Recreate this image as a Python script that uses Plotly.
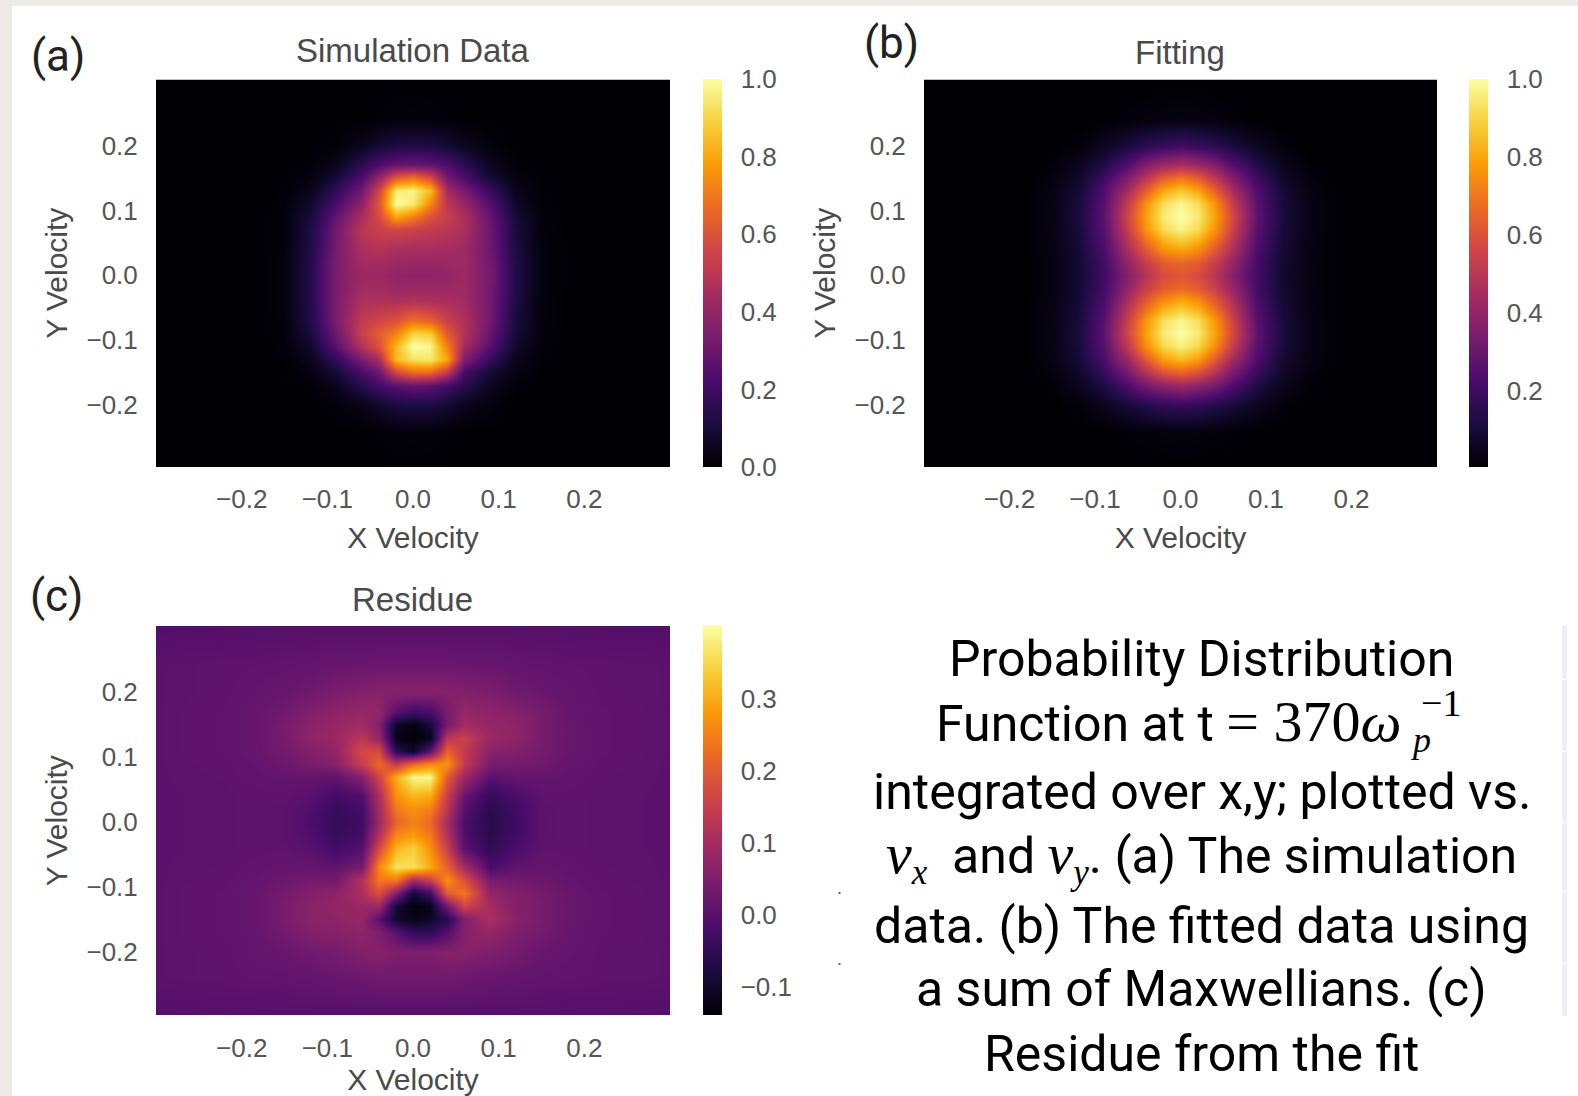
import plotly.graph_objects as go
from plotly.colors import sequential

W, H = 1578, 1096

x_vel = [-0.30, -0.22, -0.18, -0.15, -0.12, -0.09, -0.06, -0.04, -0.02, 0.0,
         0.02, 0.04, 0.06, 0.09, 0.12, 0.15, 0.18, 0.22, 0.30]
y_vel = [0.30, 0.24, 0.20, 0.17, 0.15, 0.13, 0.11, 0.09, 0.07, 0.04, 0.02, 0.0,
         -0.02, -0.04, -0.07, -0.09, -0.11, -0.13, -0.15, -0.17, -0.20, -0.24, -0.30]

simulation = [
 [0,0,0,0,0,0,0,0,0,0,0,0,0,0,0,0,0,0,0],
 [0,0,0,0,0,0,.002,.005,.01,.015,.01,.005,.002,0,0,0,0,0,0],
 [0,0,0,0,0,.01,.04,.09,.11,.12,.11,.09,.05,.015,0,0,0,0,0],
 [0,0,0,0,.008,.04,.15,.23,.28,.29,.28,.23,.15,.05,.008,0,0,0,0],
 [0,0,0,.003,.02,.09,.23,.40,.62,.68,.58,.32,.23,.09,.02,.003,0,0,0],
 [0,0,0,.006,.04,.16,.32,.56,.95,.97,.85,.44,.33,.18,.04,.006,0,0,0],
 [0,0,0,.01,.07,.22,.39,.62,1.0,.95,.74,.50,.41,.24,.06,.008,0,0,0],
 [0,0,0,.012,.10,.28,.46,.58,.80,.72,.60,.53,.46,.29,.09,.01,0,0,0],
 [0,0,0,.014,.11,.32,.50,.54,.56,.54,.52,.50,.46,.30,.10,.012,0,0,0],
 [0,0,0,.014,.12,.33,.46,.48,.46,.45,.45,.44,.43,.31,.11,.014,0,0,0],
 [0,0,0,.016,.13,.34,.44,.44,.42,.41,.41,.42,.43,.32,.12,.014,0,0,0],
 [0,0,0,.016,.13,.34,.42,.42,.40,.39,.39,.40,.42,.33,.12,.014,0,0,0],
 [0,0,0,.016,.13,.34,.44,.44,.42,.42,.42,.42,.43,.32,.12,.014,0,0,0],
 [0,0,0,.016,.13,.34,.47,.47,.47,.48,.47,.46,.44,.32,.11,.012,0,0,0],
 [0,0,0,.014,.12,.34,.52,.56,.60,.68,.64,.54,.47,.31,.10,.012,0,0,0],
 [0,0,0,.012,.10,.31,.54,.63,.72,.90,.88,.62,.48,.29,.09,.01,0,0,0],
 [0,0,0,.008,.07,.26,.48,.60,.84,1.0,.98,.72,.44,.25,.07,.008,0,0,0],
 [0,0,0,.005,.04,.16,.34,.46,.84,.93,.94,.80,.35,.17,.04,.005,0,0,0],
 [0,0,0,.003,.02,.09,.22,.30,.56,.66,.66,.50,.21,.09,.02,.003,0,0,0],
 [0,0,0,0,.008,.04,.14,.21,.26,.29,.27,.21,.14,.05,.008,0,0,0,0],
 [0,0,0,0,0,.01,.03,.07,.10,.11,.11,.08,.04,.015,0,0,0,0,0],
 [0,0,0,0,0,0,.002,.005,.01,.015,.01,.005,.002,0,0,0,0,0,0],
 [0,0,0,0,0,0,0,0,0,0,0,0,0,0,0,0,0,0,0],
]

fitting = [
 [0,0,0,0,0,0,0,0,0,0,0,0,0,0,0,0,0,0,0],
 [0,0,0,0,0,.005,.012,.02,.025,.03,.025,.02,.012,.005,0,0,0,0,0],
 [0,0,0,.002,.015,.055,.11,.15,.18,.20,.18,.15,.11,.055,.015,.002,0,0,0],
 [0,0,.002,.01,.045,.13,.25,.35,.42,.45,.42,.35,.25,.13,.045,.01,.002,0,0],
 [0,0,.003,.02,.07,.19,.36,.50,.63,.69,.63,.50,.36,.19,.07,.02,.003,0,0],
 [0,0,.005,.03,.09,.24,.46,.64,.80,.87,.80,.64,.46,.24,.09,.03,.005,0,0],
 [0,0,.006,.035,.10,.26,.54,.76,.92,.98,.92,.76,.54,.26,.10,.035,.006,0,0],
 [0,0,.006,.035,.105,.27,.58,.79,.95,1.0,.95,.79,.58,.27,.105,.035,.006,0,0],
 [0,0,.006,.035,.10,.26,.55,.76,.91,.97,.91,.76,.55,.26,.10,.035,.006,0,0],
 [0,0,.005,.03,.09,.23,.47,.62,.75,.80,.75,.62,.47,.23,.09,.03,.005,0,0],
 [0,0,.005,.025,.085,.21,.41,.53,.63,.66,.63,.53,.41,.21,.085,.025,.005,0,0],
 [0,0,.004,.025,.08,.20,.38,.49,.58,.61,.58,.49,.38,.20,.08,.025,.004,0,0],
 [0,0,.005,.025,.085,.21,.41,.54,.63,.67,.63,.54,.41,.21,.085,.025,.005,0,0],
 [0,0,.005,.03,.09,.23,.48,.63,.76,.81,.76,.63,.48,.23,.09,.03,.005,0,0],
 [0,0,.006,.035,.10,.26,.56,.77,.92,.98,.92,.77,.56,.26,.10,.035,.006,0,0],
 [0,0,.006,.035,.105,.27,.58,.79,.95,1.0,.95,.79,.58,.27,.105,.035,.006,0,0],
 [0,0,.006,.035,.10,.26,.53,.75,.90,.96,.90,.75,.53,.26,.10,.035,.006,0,0],
 [0,0,.005,.03,.09,.23,.44,.62,.78,.84,.78,.62,.44,.23,.09,.03,.005,0,0],
 [0,0,.003,.02,.07,.18,.34,.48,.60,.65,.60,.48,.34,.18,.07,.02,.003,0,0],
 [0,0,.002,.01,.045,.12,.24,.33,.39,.42,.39,.33,.24,.12,.045,.01,.002,0,0],
 [0,0,0,.002,.015,.05,.10,.13,.16,.17,.16,.13,.10,.05,.015,.002,0,0,0],
 [0,0,0,0,0,.005,.01,.015,.02,.025,.02,.015,.01,.005,0,0,0,0,0],
 [0,0,0,0,0,0,0,0,0,0,0,0,0,0,0,0,0,0,0],
]

residue = [
 [-.008,-.006,-.005,-.005,-.004,-.004,-.004,-.004,-.004,-.004,-.004,-.004,-.004,-.004,-.004,-.005,-.005,-.006,-.008],
 [.005,.008,.01,.012,.015,.02,.022,.025,.025,.025,.025,.025,.022,.02,.015,.012,.01,.008,.005],
 [.005,.008,.015,.02,.03,.045,.055,.06,.06,.06,.06,.06,.055,.045,.03,.02,.015,.008,.005],
 [.005,.01,.02,.03,.055,.07,.08,.075,.0,-.03,-.02,.04,.08,.07,.06,.04,.018,.01,.005],
 [.005,.01,.02,.04,.065,.08,.095,.06,-.11,-.13,-.09,.04,.10,.08,.07,.04,.02,.01,.005],
 [.005,.01,.02,.04,.07,.085,.13,.08,-.12,-.135,-.12,.13,.15,.085,.07,.04,.02,.01,.005],
 [.005,.01,.02,.035,.055,.075,.17,.17,-.06,-.11,.0,.21,.14,.065,.055,.035,.02,.01,.005],
 [.005,.008,.015,.025,.04,.06,.15,.22,.14,.22,.26,.27,.14,.04,.035,.03,.015,.008,.005],
 [.005,.007,.012,.015,.015,.01,.06,.16,.30,.39,.39,.20,.09,.0,.015,.015,.012,.007,.005],
 [.005,.006,.008,.008,.0,-.03,-.01,.11,.27,.31,.30,.15,.02,-.05,-.02,.008,.008,.006,.005],
 [.005,.006,.008,.005,-.01,-.04,-.025,.10,.24,.27,.25,.13,-.005,-.06,-.03,.005,.008,.006,.005],
 [.005,.006,.008,.005,-.015,-.045,-.03,.09,.21,.25,.22,.10,-.015,-.065,-.035,.005,.008,.006,.005],
 [.005,.006,.008,.005,-.01,-.04,-.025,.12,.26,.28,.24,.12,-.01,-.06,-.03,.005,.008,.006,.005],
 [.005,.006,.008,.008,0,-.03,-.005,.17,.31,.34,.27,.15,.0,-.055,-.02,.008,.008,.006,.005],
 [.005,.007,.012,.015,.015,.01,.04,.26,.36,.36,.30,.21,.10,-.02,.01,.015,.012,.007,.005],
 [.005,.008,.015,.025,.035,.03,.12,.24,.24,.10,.15,.27,.18,.04,.03,.025,.015,.008,.005],
 [.005,.01,.02,.035,.055,.07,.11,.18,.06,-.09,-.03,.20,.24,.075,.055,.035,.02,.01,.005],
 [.005,.01,.02,.04,.065,.075,.085,.09,-.09,-.135,-.12,.03,.16,.10,.055,.04,.02,.01,.005],
 [.005,.01,.02,.04,.065,.07,.08,.0,-.10,-.12,-.11,-.06,.05,.11,.06,.04,.02,.01,.005],
 [.005,.01,.018,.035,.055,.06,.07,.05,.0,-.05,-.05,-.01,.06,.08,.05,.035,.018,.01,.005],
 [.005,.008,.015,.02,.03,.04,.055,.06,.05,.05,.05,.06,.06,.05,.035,.02,.015,.008,.005],
 [.005,.008,.01,.012,.015,.02,.025,.03,.03,.03,.03,.03,.025,.02,.015,.012,.01,.008,.005],
 [-.008,-.006,-.006,-.005,-.005,-.005,-.005,-.005,-.005,-.005,-.005,-.005,-.005,-.005,-.005,-.005,-.006,-.006,-.008],
]

tick_vals = [-0.2, -0.1, 0.0, 0.1, 0.2]
tick_text = ["−0.2", "−0.1", "0.0", "0.1", "0.2"]
cbar_ticks_full = [0.0, 0.2, 0.4, 0.6, 0.8, 1.0]
cbar_ticks_fit = [0.2, 0.4, 0.6, 0.8, 1.0]
cbar_ticks_res = [-0.1, 0.0, 0.1, 0.2, 0.3]
panel_titles = ["Simulation Data", "Fitting", "Residue"]
panel_letters = ["(a)", "(b)", "(c)"]
caption_lines = [
    "Probability Distribution",
    None,
    "integrated over x,y; plotted vs.",
    None,
    "data. (b) The fitted data using",
    "a sum of Maxwellians. (c)",
    "Residue from the fit",
]

SERIF = "Liberation Serif"
TICK = dict(family="Liberation Sans", size=26, color="#555555")
AXT = dict(family="Liberation Sans", size=30, color="#4a4a4a")

def fx(p): return p / W
def fy(p): return 1 - p / H

# pixel boxes: left, right, top, bottom, colour bar left
boxes = [
    (156, 670, 79.5, 467, 702.5),
    (924, 1437, 79.5, 467, 1469),
    (156, 670, 626, 1015.5, 702.5),
]
zs = [simulation, fitting, residue]
zr = [(0, 1), (0.004, 1), (-0.139, 0.402)]
cts = [cbar_ticks_full, cbar_ticks_fit, cbar_ticks_res]
yranges = [(-0.295, 0.3015), (-0.295, 0.3015), (-0.298, 0.302)]

fig = go.Figure()
shapes = [dict(type="rect", xref="paper", yref="paper", x0=fx(12), x1=1, y0=0, y1=fy(6),
               fillcolor="white", line_width=0, layer="below")]
strip_breaks = [626, 679, 680, 751, 752, 822, 823, 891, 892, 963, 964, 1016]
for k in range(0, len(strip_breaks), 2):
    shapes.append(dict(type="rect", xref="paper", yref="paper", x0=fx(1562), x1=fx(1567),
                       y0=fy(strip_breaks[k + 1]), y1=fy(strip_breaks[k]),
                       fillcolor="#EEEEF6", line_width=0, layer="below"))
for py in (893, 964):
    shapes.append(dict(type="rect", xref="paper", yref="paper", x0=fx(838.5), x1=fx(840.5),
                       y0=fy(py + 1), y1=fy(py - 1), fillcolor="#666666", line_width=0, layer="below"))

layout = dict(
    width=W, height=H, margin=dict(l=0, r=0, t=0, b=0),
    paper_bgcolor="#EEEBE4", plot_bgcolor="white", showlegend=False, shapes=shapes,
)
ann = []
for i, (l, r, t, b, cb) in enumerate(boxes):
    s = "" if i == 0 else str(i + 1)
    fig.add_trace(go.Heatmap(
        x=x_vel, y=y_vel[::-1], z=zs[i][::-1], zsmooth="best",
        colorscale=sequential.Inferno, zmin=zr[i][0], zmax=zr[i][1],
        xaxis="x" + s, yaxis="y" + s,
        colorbar=dict(
            x=fx(cb), xanchor="left", xpad=0, ypad=0,
            y=fy(b), yanchor="bottom", len=(b - t) / H, lenmode="fraction",
            thickness=19, thicknessmode="pixels", outlinewidth=0,
            tickmode="array", tickvals=cts[i], ticktext=[f"{v:.1f}".replace("-", "−") for v in cts[i]],
            ticks="outside", ticklen=14, tickcolor="rgba(0,0,0,0)", tickfont=TICK,
        ),
    ))
    layout["xaxis" + s] = dict(
        domain=[fx(l), fx(r)], range=[-0.3, 0.3], anchor="y" + s,
        tickmode="array", tickvals=tick_vals, ticktext=tick_text, tickfont=TICK,
        ticks="outside", ticklen=9, tickcolor="rgba(0,0,0,0)", showgrid=False, zeroline=False,
        title=dict(text="X Velocity", font=AXT, standoff=13),
    )
    layout["yaxis" + s] = dict(
        domain=[fy(b), fy(t)], range=list(yranges[i]), anchor="x" + s,
        tickmode="array", tickvals=tick_vals, ticktext=tick_text, tickfont=TICK,
        ticks="outside", ticklen=12, tickcolor="rgba(0,0,0,0)", showgrid=False, zeroline=False,
        title=dict(text="Y Velocity", font=AXT, standoff=9),
    )

def text(px, py, s, font, anchor="center"):
    ann.append(dict(xref="paper", yref="paper", x=fx(px), y=fy(py), text=s, showarrow=False,
                    xanchor=anchor, yanchor="middle", font=font))

title_pos = [(412.5, 50), (1180, 52), (412.5, 599)]
for (px, py), s in zip(title_pos, panel_titles):
    text(px, py, s, dict(family="Liberation Sans", size=33, color="#4a4a4a"))
letter_pos = [(58, 56), (891, 43), (56, 596)]
for (px, py), s in zip(letter_pos, panel_letters):
    text(px, py, s, dict(family="Roboto", size=44, color="#222222"))

CAP = dict(family="Roboto", size=50, color="black")
cap_x = 1201.5
cap_y = [659, 723, 792, 856, 926, 989, 1054]
for y, s in zip(cap_y, caption_lines):
    if s:
        text(cap_x, y, s, CAP)

serif = f'font-family:{SERIF}'
math = f'font-family:{SERIF};font-size:58px'
text(934, cap_y[1] - 1, f'Function at t <span style="{math}">= 370<i>ω</i></span>', CAP, "left")
text(1420, 740, '<i>p</i>', dict(family=SERIF, size=36, color="black"), "center")
text(1441, 703, '−1', dict(family=SERIF, size=38, color="black"), "center")
text(cap_x, cap_y[3],
     f'<span style="{math}"><i>v</i></span><sub><span style="{serif}"><i>x</i></span></sub>&nbsp; and '
     f'<span style="{math}"><i>v</i></span><sub><span style="{serif}"><i>y</i></span></sub>. (a) The simulation',
     CAP)

layout["annotations"] = ann
fig.update_layout(**layout)
fig.write_html("out.html", config={"displayModeBar": False},
               post_script="document.body.style.margin='0';document.body.style.overflow='hidden';")
